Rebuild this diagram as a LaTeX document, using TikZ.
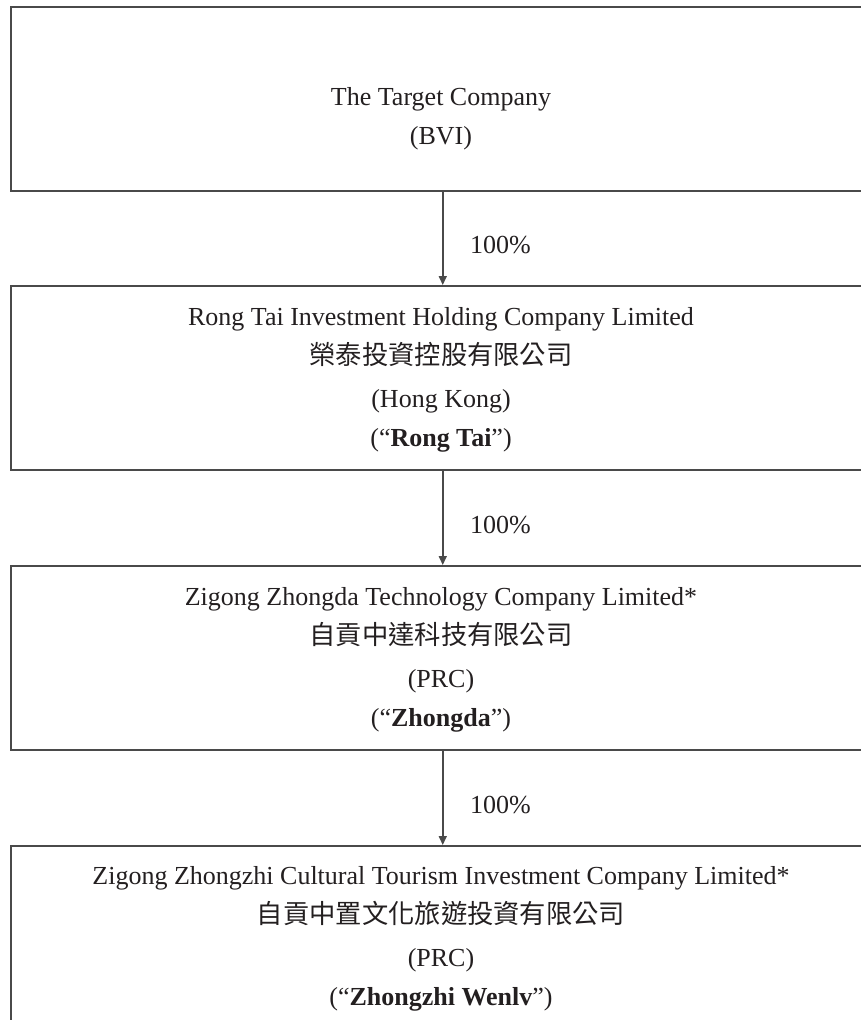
\documentclass[tikz,border=0pt]{standalone}
\usepackage{fontspec}
\setmainfont{Liberation Serif}
\newfontfamily\cjk{Noto Sans CJK TC}
\usetikzlibrary{arrows.meta}
\definecolor{ink}{HTML}{231F20}
\definecolor{rulegray}{HTML}{4A4A4A}
\begin{document}
\begin{tikzpicture}[x=1pt,y=-1pt,
  box/.style={draw=rulegray, line width=1.5pt, minimum width=864pt, minimum height=184pt, anchor=north west, inner sep=0pt},
  txt/.style={anchor=base, text=ink, font=\fontsize{26}{30}\selectfont, inner sep=0pt},
  cjktxt/.style={anchor=base, text=ink, font=\fontsize{26.3}{30}\selectfont\cjk, inner sep=0pt},
  lab/.style={anchor=west, text=ink, font=\fontsize{26}{30}\selectfont, inner sep=0pt},
  arr/.style={draw=rulegray, line width=1.6pt, -{Triangle[length=9pt,width=8pt]}}]
\useasboundingbox (0,0) rectangle (861,1020);
\clip (0,0) rectangle (861,1020);
\node[box] (b1) at (10,6) {};
\node[box] (b2) at (10,285) {};
\node[box] (b3) at (10,565) {};
\node[box] (b4) at (10,845) {};
% box 1
\node[txt] (t1a) at (441,105) {The Target Company};
\node[txt] (t1b) at (441,144) {(BVI)};
% box 2
\node[txt] (t2a) at (441,325) {Rong Tai Investment Holding Company Limited};
\node[cjktxt] (t2b) at (441,364) {榮泰投資控股有限公司};
\node[txt] (t2c) at (441,407) {(Hong Kong)};
\node[txt] (t2d) at (441,446) {(``\textbf{Rong Tai}'')};
% box 3
\node[txt] (t3a) at (441,605) {Zigong Zhongda Technology Company Limited*};
\node[cjktxt] (t3b) at (441,644) {自貢中達科技有限公司};
\node[txt] (t3c) at (441,687) {(PRC)};
\node[txt] (t3d) at (441,726) {(``\textbf{Zhongda}'')};
% box 4
\node[txt] (t4a) at (441,884) {Zigong Zhongzhi Cultural Tourism Investment Company Limited*};
\node[cjktxt] (t4b) at (441,923) {自貢中置文化旅遊投資有限公司};
\node[txt] (t4c) at (441,966) {(PRC)};
\node[txt] (t4d) at (441,1005) {(``\textbf{Zhongzhi Wenlv}'')};
% arrows
\draw[arr] (b1.south) -- (b2.north);
\draw[arr] (b2.south) -- (b3.north);
\draw[arr] (b3.south) -- (b4.north);
\node[lab] (l1) at (470,245) {100\%};
\node[lab] (l2) at (470,525) {100\%};
\node[lab] (l3) at (470,805) {100\%};
\end{tikzpicture}
\end{document}
